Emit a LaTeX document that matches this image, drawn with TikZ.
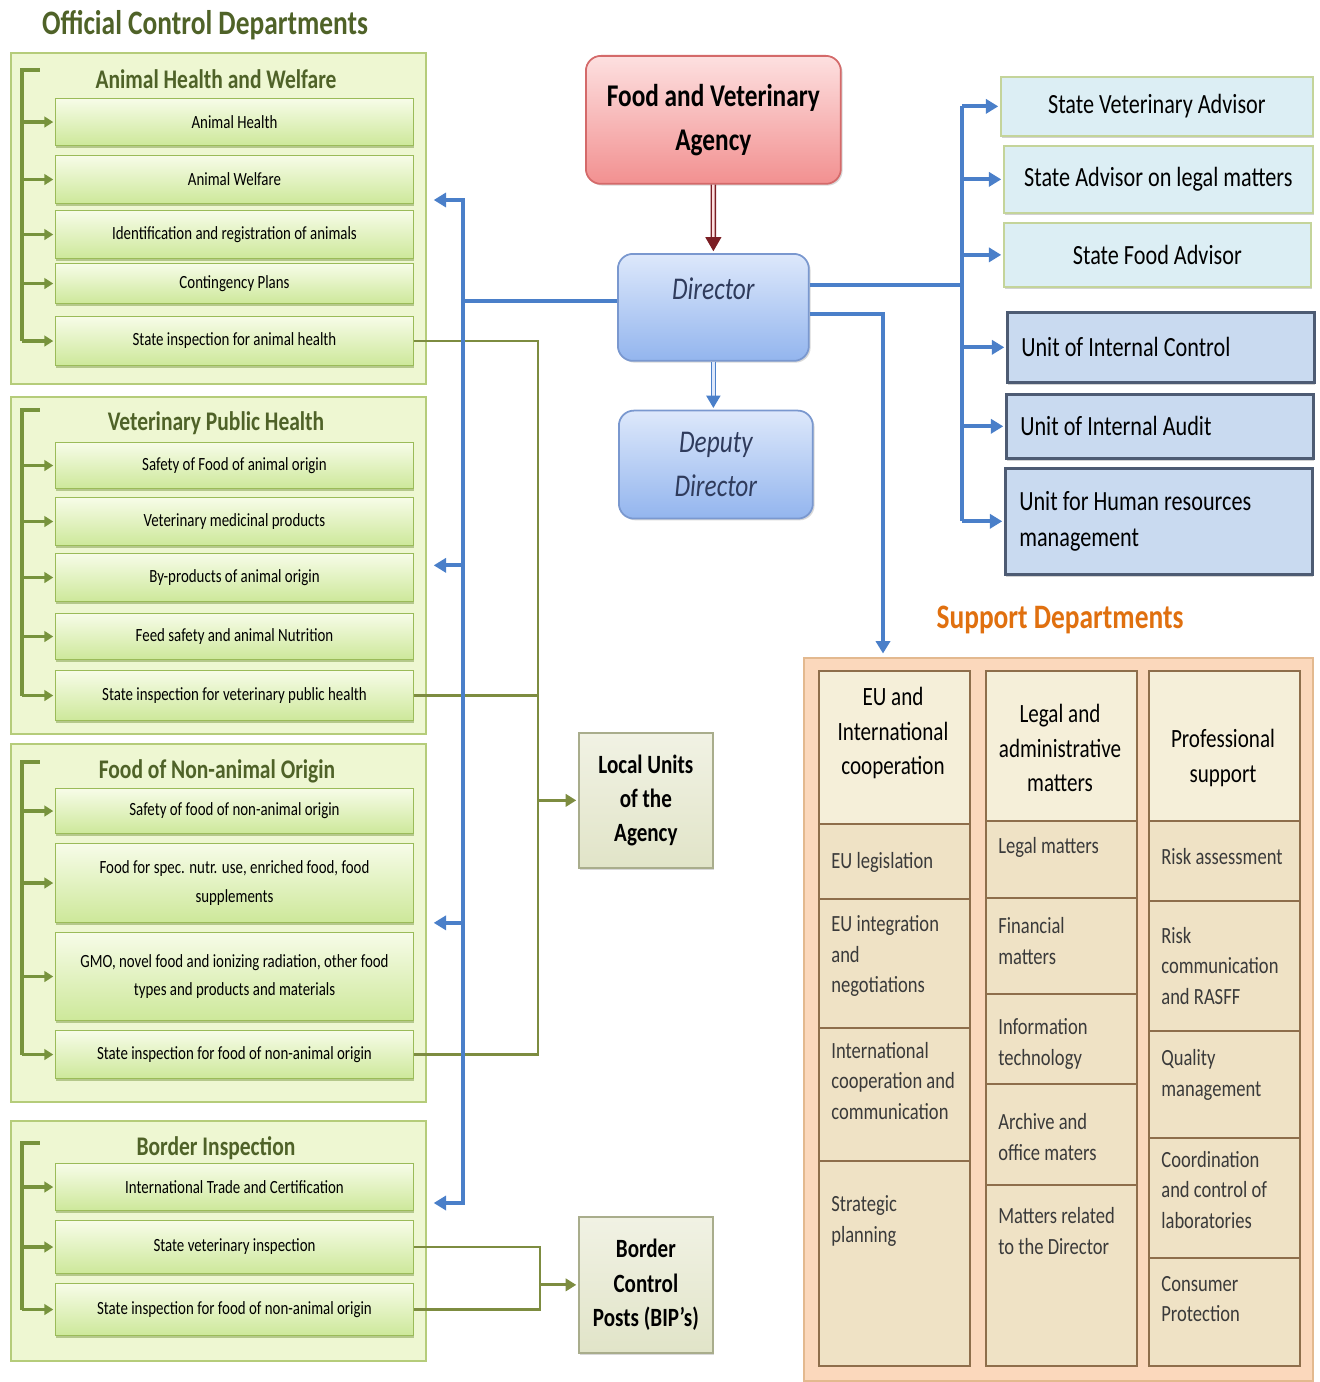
\documentclass[tikz,border=0pt]{standalone}
\usepackage{fontspec}
\setmainfont{Carlito}[FakeStretch=0.8]
\usetikzlibrary{positioning, arrows.meta, shadows}

\definecolor{olivetitle}{HTML}{4F6228}
\definecolor{olivebr}{HTML}{77933C}
\definecolor{groupfill}{HTML}{EEF7D2}
\definecolor{groupborder}{HTML}{B5CC7A}
\definecolor{itemtop}{HTML}{F7FCE8}
\definecolor{itembot}{HTML}{CDE89A}
\definecolor{itemborder}{HTML}{9BBB59}
\definecolor{itemshadow}{HTML}{7E9A45}
\definecolor{bluelink}{HTML}{4A7FC9}
\definecolor{dirtop}{HTML}{DDE8FB}
\definecolor{dirbot}{HTML}{93B5EE}
\definecolor{dirborder}{HTML}{7A98CF}
\definecolor{dirtext}{HTML}{2F3B5C}
\definecolor{fvatop}{HTML}{FDE0E0}
\definecolor{fvabot}{HTML}{F29090}
\definecolor{fvaborder}{HTML}{D46A6A}
\definecolor{darkred}{HTML}{7B1E24}
\definecolor{advfill}{HTML}{DCEEF4}
\definecolor{advborder}{HTML}{C4D49A}
\definecolor{unitfill}{HTML}{C9DAF0}
\definecolor{unitborder}{HTML}{4D5B73}
\definecolor{localtop}{HTML}{F1F2E4}
\definecolor{localbot}{HTML}{E1E4C8}
\definecolor{localborder}{HTML}{A9AD8C}
\definecolor{oliveconn}{HTML}{7D8C40}
\definecolor{supfill}{HTML}{FBD8BC}
\definecolor{supborder}{HTML}{E3B98F}
\definecolor{supttl}{HTML}{E0700F}
\definecolor{cellfill}{HTML}{EFE2C5}
\definecolor{headfill}{HTML}{F5EFD9}
\definecolor{cellline}{HTML}{8E6E4B}
\definecolor{cellink}{HTML}{3A3A3A}

\tikzstyle{group} = [rectangle, anchor=north west, minimum width=8.3cm, fill=groupfill, draw=groupborder, line width=1pt, drop shadow={shadow xshift=0.8pt, shadow yshift=-0.8pt, fill=black!25}]
\tikzstyle{grouptitle} = [font=\fontsize{15.3}{17}\selectfont\bfseries, text=olivetitle]
\tikzstyle{item} = [rectangle, anchor=north west, minimum width=7.16cm, top color=itemtop, bottom color=itembot, draw=itemborder, line width=0.6pt, align=center, font=\fontsize{10.6}{16}\selectfont, drop shadow={shadow xshift=0.4pt, shadow yshift=-1.4pt, fill=itemshadow}]
\tikzstyle{fvabox} = [rectangle, rounded corners=0.3cm, anchor=north west, minimum width=5.1cm, minimum height=2.56cm, top color=fvatop, bottom color=fvabot, draw=fvaborder, line width=1pt, align=center, font=\fontsize{18}{25}\selectfont\bfseries, drop shadow={shadow xshift=1pt, shadow yshift=-1pt, fill=black!30}]
\tikzstyle{dirbox} = [rectangle, rounded corners=0.3cm, top color=dirtop, bottom color=dirbot, draw=dirborder, line width=1pt, text=dirtext, font=\fontsize{18}{25}\selectfont\itshape, drop shadow={shadow xshift=1pt, shadow yshift=-1pt, fill=black!30}]
\tikzstyle{advbox} = [rectangle, anchor=north west, fill=advfill, draw=advborder, line width=1pt, font=\fontsize{15.8}{20}\selectfont, drop shadow={shadow xshift=0.5pt, shadow yshift=-1.4pt, fill=black!35}]
\tikzstyle{unitbox} = [rectangle, anchor=north west, fill=unitfill, draw=unitborder, line width=1.5pt, align=flush left, text width=5.58cm, inner xsep=0.28cm, font=\fontsize{15.8}{20.5}\selectfont, drop shadow={shadow xshift=0.5pt, shadow yshift=-1.4pt, fill=black!35}]
\tikzstyle{localbox} = [rectangle, anchor=north west, minimum width=2.68cm, minimum height=2.7cm, top color=localtop, bottom color=localbot, draw=localborder, line width=1pt, align=center, font=\fontsize{15}{19.5}\selectfont\bfseries, drop shadow={shadow xshift=0.5pt, shadow yshift=-1.4pt, fill=black!30}]
\tikzstyle{cell} = [rectangle, anchor=north west, minimum width=3.02cm, inner sep=0pt, fill=cellfill, draw=cellline, line width=1pt]
\tikzstyle{headcell} = [cell, fill=headfill]
\tikzstyle{headtext} = [align=center, font=\fontsize{15}{19.5}\selectfont]
\tikzstyle{celltext} = [anchor=west, align=left, inner sep=0pt, text=cellink, font=\fontsize{13.2}{17.5}\selectfont]
\tikzstyle{greenline} = [draw=olivebr, line width=1.8pt]
\tikzstyle{greenarrow} = [greenline, -{Triangle[length=5pt, width=6pt]}, shorten >=1pt]
\tikzstyle{oliveline} = [draw=oliveconn, line width=1.6pt]
\tikzstyle{olivearrow} = [oliveline, -{Triangle[length=6pt, width=7pt]}, shorten >=1pt]
\tikzstyle{blueline} = [draw=bluelink, line width=2.3pt]
\tikzstyle{bluearrow} = [blueline, -{Triangle[length=7pt, width=8pt]}]
\tikzstyle{redarrow} = [draw=darkred, line width=0.9pt, double=fvatop, double distance=1.4pt, -{Triangle[length=8pt, width=9pt]}, shorten >=1pt]
\tikzstyle{bluedouble} = [draw=bluelink, line width=0.9pt, double=dirtop, double distance=1.4pt, -{Triangle[length=7pt, width=8pt]}, shorten >=1pt]

\begin{document}
\begin{tikzpicture}[x=0.02cm, y=-0.02cm]
\useasboundingbox (0,0) rectangle (1319,1382);

% official control departments
\node (octitle) [font=\fontsize{19.5}{22}\selectfont\bfseries, text=olivetitle] at (205,25) {Official Control Departments};

\node (ahw) [group, minimum height=6.62cm] at (10,52) {};
\node (vph) [group, minimum height=6.74cm] at (10,396) {};
\node (fnao) [group, minimum height=7.16cm] at (10,743) {};
\node (bi) [group, minimum height=4.8cm] at (10,1120) {};

\node (ahwtitle) [grouptitle] at (216,79) {Animal Health and Welfare};
\node (vphtitle) [grouptitle] at (216,423) {Veterinary Public Health};
\node (fnaotitle) [grouptitle] at (217,771) {Food of Non-animal Origin};
\node (bititle) [grouptitle] at (216,1148) {Border Inspection};

\node (ah) [item, minimum height=0.94cm] at (55,98) {Animal Health};
\node (aw) [item, minimum height=0.96cm] at (55,155) {Animal Welfare};
\node (idr) [item, minimum height=0.96cm] at (55,210) {Identification and registration of animals};
\node (cp) [item, minimum height=0.8cm] at (55,263) {Contingency Plans};
\node (siah) [item, minimum height=0.98cm] at (55,316) {State inspection for animal health};

\node (sfao) [item, minimum height=0.92cm] at (55,442) {Safety of Food of animal origin};
\node (vmp) [item, minimum height=0.96cm] at (55,497) {Veterinary medicinal products};
\node (bpao) [item, minimum height=0.96cm] at (55,553) {By-products of animal origin};
\node (fsan) [item, minimum height=0.92cm] at (55,613) {Feed safety and animal Nutrition};
\node (sivph) [item, minimum height=1.0cm] at (55,670) {State inspection for veterinary public health};

\node (sfnao) [item, minimum height=0.9cm] at (55,788) {Safety of food of non-animal origin};
\node (fsnu) [item, minimum height=1.58cm] at (55,843) {Food for spec. nutr. use, enriched food, food\\supplements};
\node (gmo) [item, minimum height=1.76cm] at (55,932) {GMO, novel food and ionizing radiation, other food\\types and products and materials};
\node (sifnao) [item, minimum height=0.96cm] at (55,1030) {State inspection for food of non-animal origin};

\node (itc) [item, minimum height=0.94cm] at (55,1163) {International Trade and Certification};
\node (svi) [item, minimum height=1.06cm] at (55,1220) {State veterinary inspection};
\node (sibi) [item, minimum height=1.04cm] at (55,1283) {State inspection for food of non-animal origin};

% brackets inside the departments
\coordinate (ahwbr) at (22,70);
\coordinate (vphbr) at (22,410);
\coordinate (fnaobr) at (22,762);
\coordinate (bibr) at (22,1143);
\draw[greenline] ([xshift=0.36cm]ahwbr) -- (ahwbr) -- (ahwbr |- siah.west);
\draw[greenline] ([xshift=0.36cm]vphbr) -- (vphbr) -- (vphbr |- sivph.west);
\draw[greenline] ([xshift=0.36cm]fnaobr) -- (fnaobr) -- (fnaobr |- sifnao.west);
\draw[greenline] ([xshift=0.36cm]bibr) -- (bibr) -- (bibr |- sibi.west);
\foreach \n in {ah,aw,idr,cp,siah} \draw[greenarrow] (ahwbr |- \n.west) -- (\n.west);
\foreach \n in {sfao,vmp,bpao,fsan,sivph} \draw[greenarrow] (vphbr |- \n.west) -- (\n.west);
\foreach \n in {sfnao,fsnu,gmo,sifnao} \draw[greenarrow] (fnaobr |- \n.west) -- (\n.west);
\foreach \n in {itc,svi,sibi} \draw[greenarrow] (bibr |- \n.west) -- (\n.west);

% agency and director
\node (fva) [fvabox] at (585,55) {Food and Veterinary\\Agency};
\node (director) [dirbox, anchor=north west, minimum width=3.82cm, minimum height=2.14cm, text height=0.5cm, text depth=0.82cm] at (617,253) {Director};
\node (deputy) [dirbox, minimum width=3.88cm, minimum height=2.16cm, align=center, below=0.96cm of director, xshift=0.05cm] {Deputy\\Director};
\draw[redarrow] (fva.south) -- (director.north);
\draw[bluedouble] (director.south) -- (director.south |- deputy.north);

% local units
\node (local) [localbox] at (578,732) {Local Units\\of the\\Agency};
\node (bcp) [localbox, minimum height=2.72cm] at (578,1216) {Border\\Control\\Posts (BIP’s)};

\coordinate (lubus) at (538,0);
\coordinate (bcbus) at (540,0);
\draw[oliveline] (siah.east) -- (siah.east -| lubus) -- (sifnao.east -| lubus) -- (sifnao.east);
\draw[oliveline] (sivph.east) -- (sivph.east -| lubus);
\draw[olivearrow] (lubus |- local.west) -- (local.west);
\draw[oliveline] (svi.east) -- (svi.east -| bcbus) -- (sibi.east -| bcbus) -- (sibi.east);
\draw[olivearrow] (bcbus |- bcp.west) -- (bcp.west);

% director to departments
\coordinate (lbustop) at (463,200);
\coordinate (lbusbot) at (463,1203);
\draw[blueline] ([yshift=0.12cm]director.west) -- ([yshift=0.12cm]director.west -| lbustop);
\draw[bluearrow, shorten >=4pt] (lbusbot) -- (lbustop) -- (lbustop -| ahw.east);
\draw[bluearrow, shorten >=4pt] (lbustop) -- (lbusbot) -- (lbusbot -| bi.east);
\draw[bluearrow, shorten >=4pt] (lbustop |- vph.east) -- (vph.east);
\draw[bluearrow, shorten >=4pt] (lbustop |- fnao.east) -- (fnao.east);

% advisors and units
\node (sva) [advbox, minimum width=6.24cm, minimum height=1.18cm] at (1000,76) {State Veterinary Advisor};
\node (salm) [advbox, minimum width=6.18cm, minimum height=1.34cm] at (1003,145) {State Advisor on legal matters};
\node (sfa) [advbox, minimum width=6.14cm, minimum height=1.28cm] at (1003,222) {State Food Advisor};
\node (uic) [unitbox, minimum height=1.4cm] at (1006,311) {Unit of Internal Control};
\node (uia) [unitbox, minimum height=1.28cm] at (1005,393) {Unit of Internal Audit};
\node (uhr) [unitbox, minimum height=2.12cm] at (1004,467) {Unit for Human resources\\management};

\coordinate (rbus) at (962,285);
\draw[blueline] (director.east |- rbus) -- (rbus);
\draw[blueline] (rbus |- sva.west) -- (rbus |- uhr.west);
\foreach \n in {sva,salm,sfa,uic,uia,uhr} \draw[bluearrow, shorten >=1pt] (rbus |- \n.west) -- (\n.west);

% support departments
\node (suptitle) [font=\fontsize{19.5}{22}\selectfont\bfseries, text=supttl] at (1060,620) {Support Departments};
\node (support) [rectangle, anchor=north west, minimum width=10.18cm, minimum height=14.46cm, fill=supfill, draw=supborder, line width=1pt] at (803,657) {};

\coordinate (sbend) at (883,314);
\draw[bluearrow, shorten >=2pt] (director.east |- sbend) -- (sbend) -- (sbend |- support.north);

\node (euic) [headcell, minimum height=3.06cm] at (818,670) {};
\node (eul) [cell, minimum height=1.5cm] at (818,823) {};
\node (eui) [cell, minimum height=2.58cm] at (818,898) {};
\node (icc) [cell, minimum height=2.66cm] at (818,1027) {};
\node (sp) [cell, minimum height=4.1cm] at (818,1160) {};

\node (lam) [headcell, minimum height=3.0cm] at (985,670) {};
\node (lm) [cell, minimum height=1.54cm] at (985,820) {};
\node (fm) [cell, minimum height=1.92cm] at (985,897) {};
\node (it) [cell, minimum height=1.8cm] at (985,993) {};
\node (ao) [cell, minimum height=2.02cm] at (985,1083) {};
\node (mr) [cell, minimum height=3.62cm] at (985,1184) {};

\node (ps) [headcell, minimum height=3.0cm] at (1148,670) {};
\node (ra) [cell, minimum height=1.6cm] at (1148,820) {};
\node (rc) [cell, minimum height=2.6cm] at (1148,900) {};
\node (qm) [cell, minimum height=2.14cm] at (1148,1030) {};
\node (cc) [cell, minimum height=2.4cm] at (1148,1137) {};
\node (cpr) [cell, minimum height=2.16cm] at (1148,1257) {};

\node (euictext) [headtext] at (893,733) {EU and\\International\\cooperation};
\node (lamtext) [headtext] at (1060,748) {Legal and\\administrative\\matters};
\node (pstext) [headtext] at (1223,758) {Professional\\support};

\node (eultext) [celltext] at (831,862) {EU legislation};
\node (euitext) [celltext] at (831,956) {EU integration\\and\\negotiations};
\node (icctext) [celltext] at (831,1081) {International\\cooperation and\\communication};
\node (sptext) [celltext] at (831,1221) {Strategic\\planning};
\node (lmtext) [celltext] at (998,847) {Legal matters};
\node (fmtext) [celltext] at (998,941) {Financial\\matters};
\node (ittext) [celltext] at (998,1044) {Information\\technology};
\node (aotext) [celltext] at (998,1137) {Archive and\\office maters};
\node (mrtext) [celltext] at (998,1231) {Matters related\\to the Director};
\node (ratext) [celltext] at (1161,857) {Risk assessment};
\node (rctext) [celltext] at (1161,966) {Risk\\communication\\and RASFF};
\node (qmtext) [celltext] at (1161,1075) {Quality\\management};
\node (cctext) [celltext] at (1161,1190) {Coordination\\and control of\\laboratories};
\node (cprtext) [celltext] at (1161,1299) {Consumer\\Protection};
\end{tikzpicture}
\end{document}
